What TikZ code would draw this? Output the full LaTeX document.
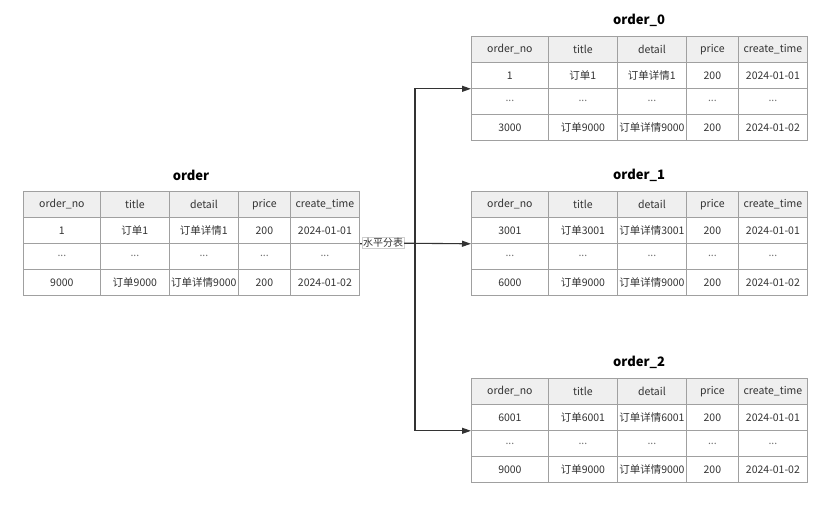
\documentclass[tikz,border=0pt]{standalone}
\usepackage{fontspec}
\setmainfont{Noto Sans CJK SC}
\usetikzlibrary{arrows.meta}
\definecolor{bordergray}{HTML}{A0A0A0}
\definecolor{headfill}{HTML}{EFEFEF}
\definecolor{txt}{HTML}{333333}
\definecolor{linec}{HTML}{333333}
\newcommand\elp{\textcolor{txt!70}{...}}
\tikzset{
  cellbox/.style={draw=bordergray, line width=0.8pt, anchor=north west, inner sep=0pt,
    minimum height=26pt, text=txt, font=\fontsize{10.5}{12}\selectfont},
  tabtitle/.style={text=black, font=\fontsize{13}{15}\selectfont\bfseries},
  conn/.style={draw=linec, line width=1.1pt},
  arrowed/.style={-{Triangle[length=9pt,width=6pt]}},
  lbl/.style={fill=white, draw=bordergray!50, line width=0.4pt, inner sep=1pt, text=txt,
    font=\fontsize{10}{12}\selectfont}
}
\newcommand\dbtable[5]{%
  \node[tabtitle] (#1-title) at (#2+168, #3-16) {#4};
  \fill[headfill] (#2,#3) rectangle ++(336,26);
  \foreach \row [count=\r from 0] in {{order\_no,title,detail,price,create\_time},#5} {
    \foreach \cell [count=\c from 1] in \row {
      \pgfmathsetmacro\colxo{{0,77,146,215,267}[\c-1]}
      \pgfmathsetmacro\colwd{{77,69,69,52,69}[\c-1]}
      \node[cellbox, minimum width=\colwd pt] (#1-\r-\c) at (#2+\colxo, #3+\r*26) {\cell};
    }
  }
}
\begin{document}
\begin{tikzpicture}[x=1pt,y=-1pt]
\useasboundingbox (0,0) rectangle (834,517);
\dbtable{ord}{23}{191}{order}{{1,订单1,订单详情1,200,2024-01-01},{\elp,\elp,\elp,\elp,\elp},{9000,订单9000,订单详情9000,200,2024-01-02}}
\dbtable{oa}{471}{36}{order\_0}{{1,订单1,订单详情1,200,2024-01-01},{\elp,\elp,\elp,\elp,\elp},{3000,订单9000,订单详情9000,200,2024-01-02}}
\dbtable{ob}{471}{191}{order\_1}{{3001,订单3001,订单详情3001,200,2024-01-01},{\elp,\elp,\elp,\elp,\elp},{6000,订单9000,订单详情9000,200,2024-01-02}}
\dbtable{oc}{471}{378}{order\_2}{{6001,订单6001,订单详情6001,200,2024-01-01},{\elp,\elp,\elp,\elp,\elp},{9000,订单9000,订单详情9000,200,2024-01-02}}
\coordinate (src) at (ord-1-5.south east);
\coordinate (jn) at (415,243);
\node[lbl] (lbl) at (383,243) {水平分表};
\draw[conn] (src) -- (lbl);
\draw[conn, arrowed] (lbl) -- (ob-1-1.south west);
\draw[conn, arrowed] (jn) |- (oa-1-1.south west);
\draw[conn, arrowed] (jn) |- (oc-1-1.south west);
\end{tikzpicture}
\end{document}
